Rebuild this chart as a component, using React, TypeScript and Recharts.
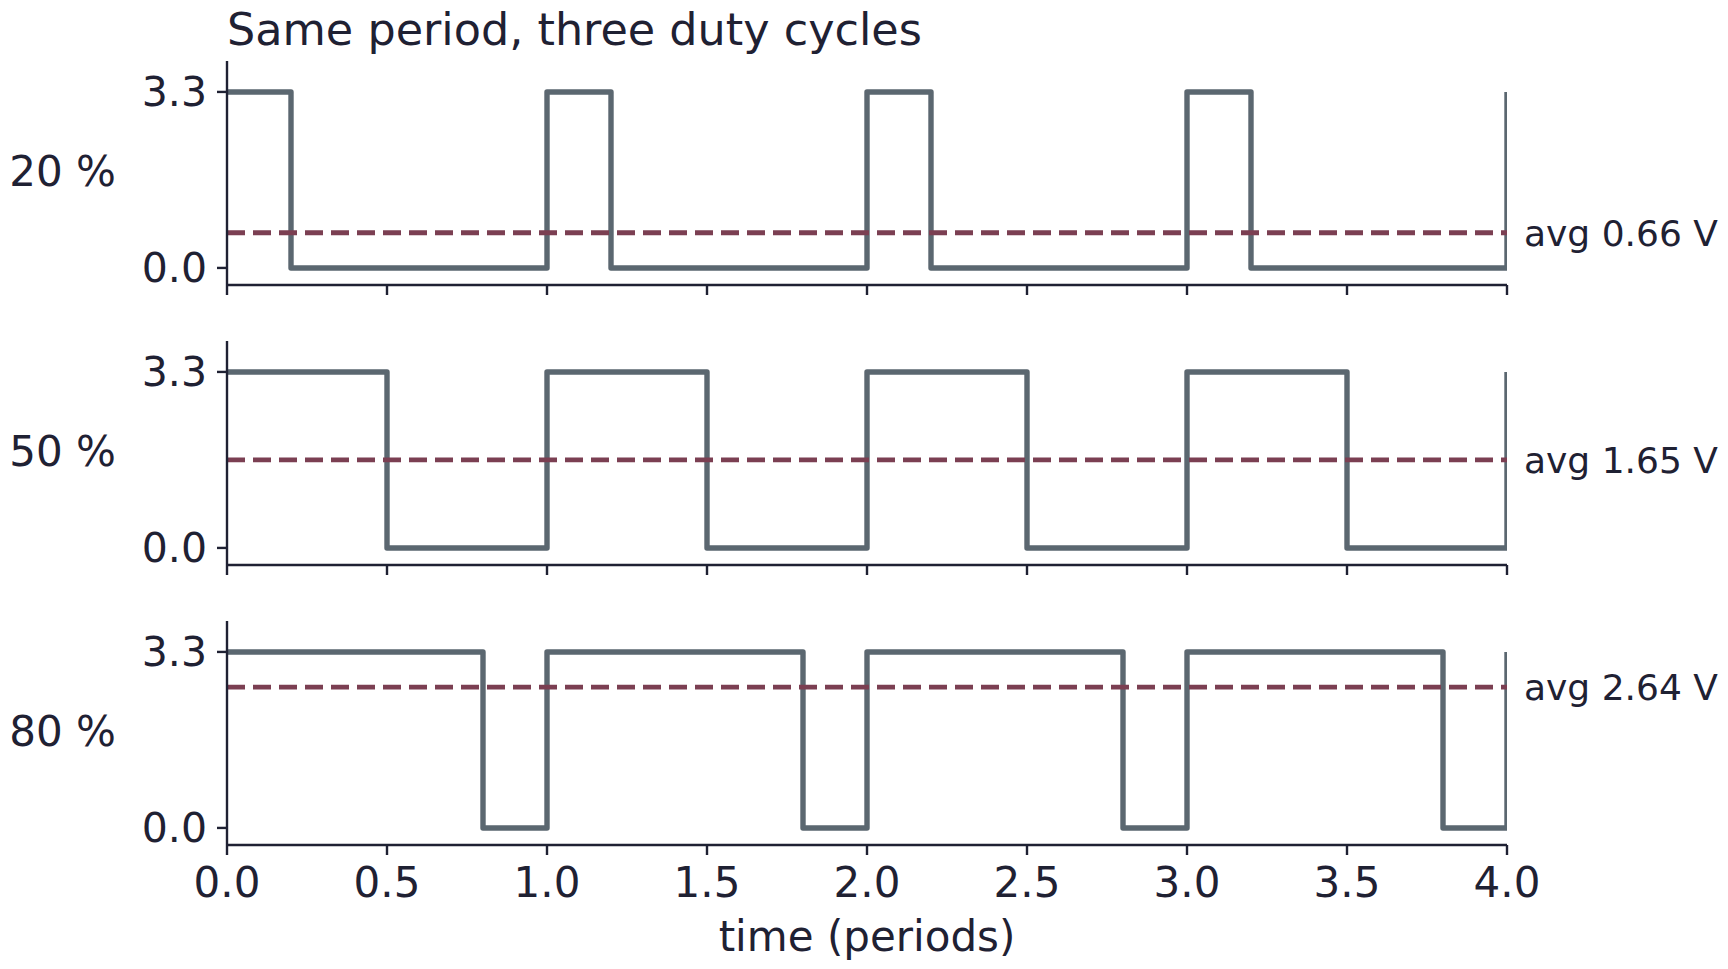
import React from 'react';
import { LineChart, Line, XAxis, YAxis, ReferenceLine } from 'recharts';

// ---- data ----
const TIME_20 = [0, 0.2, 1, 1.2, 2, 2.2, 3, 3.2, 4];
const VOLT_20 = [3.3, 0, 3.3, 0, 3.3, 0, 3.3, 0, 3.3];
const TIME_50 = [0, 0.5, 1, 1.5, 2, 2.5, 3, 3.5, 4];
const VOLT_50 = [3.3, 0, 3.3, 0, 3.3, 0, 3.3, 0, 3.3];
const TIME_80 = [0, 0.8, 1, 1.8, 2, 2.8, 3, 3.8, 4];
const VOLT_80 = [3.3, 0, 3.3, 0, 3.3, 0, 3.3, 0, 3.3];

const DUTY_LABELS = ['20 %', '50 %', '80 %'];
const AVERAGES = [0.66, 1.65, 2.64];
const X_TICKS = [0, 0.5, 1, 1.5, 2, 2.5, 3, 3.5, 4];
const Y_TICKS = [0, 3.3];
const TITLE = 'Same period, three duty cycles';
const X_LABEL = 'time (periods)';

const SERIES = [
  { time: TIME_20, volt: VOLT_20 },
  { time: TIME_50, volt: VOLT_50 },
  { time: TIME_80, volt: VOLT_80 },
];

// ---- style ----
const FONT = '"DejaVu Sans", sans-serif';
const INK = '#1f2133';
const SIGNAL = '#5b6770';
const AVG = '#7b3f52';

const W = 1728;
const PLOT_LEFT = 227;
const PLOT_RIGHT = 1507;
const PLOT_TOP = 61;
const PLOT_H = 224;
const PITCH = 280;

function Panel({ idx }: { idx: number }) {
  const s = SERIES[idx];
  const data = s.time.map((t, i) => ({ t, v: s.volt[i] }));
  const last = idx === SERIES.length - 1;
  const xAxisH = last ? 80 : 30;
  const h = PLOT_TOP + PLOT_H + xAxisH;
  return (
    <div style={{ position: 'absolute', left: 0, top: PITCH * idx }}>
      <LineChart
        width={W}
        height={h}
        data={data}
        margin={{ top: PLOT_TOP, right: W - PLOT_RIGHT, bottom: 0, left: 0 }}
      >
        <XAxis
          dataKey="t"
          type="number"
          domain={[0, 4]}
          allowDataOverflow
          ticks={X_TICKS}
          interval={0}
          height={xAxisH}
          tickSize={10}
          tickMargin={12}
          tickFormatter={(v: number) => (last ? v.toFixed(1) : '')}
          axisLine={{ stroke: INK, strokeWidth: 2.4 }}
          tickLine={{ stroke: INK, strokeWidth: 2.4 }}
          tick={{ fill: INK, fontSize: 42, fontFamily: FONT }}
        />
        <YAxis
          type="number"
          domain={[-0.32, 3.88]}
          allowDataOverflow
          ticks={Y_TICKS}
          interval={0}
          width={PLOT_LEFT}
          tickSize={10}
          tickMargin={10}
          tickFormatter={(v: number) => v.toFixed(1)}
          axisLine={{ stroke: INK, strokeWidth: 2.4 }}
          tickLine={{ stroke: INK, strokeWidth: 2.4 }}
          tick={{ fill: INK, fontSize: 41, fontFamily: FONT }}
        />
        <Line
          dataKey="v"
          type="stepAfter"
          stroke={SIGNAL}
          strokeWidth={5.4}
          strokeLinejoin="round"
          dot={false}
          activeDot={false}
          isAnimationActive={false}
        />
        <ReferenceLine
          y={AVERAGES[idx]}
          stroke={AVG}
          strokeWidth={4.8}
          strokeDasharray="18 8"
          label={{
            value: `avg ${AVERAGES[idx].toFixed(2)} V`,
            position: 'right',
            offset: 17,
            fill: INK,
            fontSize: 36,
            fontFamily: FONT,
          }}
        />
      </LineChart>
    </div>
  );
}

export default function App() {
  return (
    <div
      style={{
        position: 'absolute',
        left: 0,
        top: 0,
        width: W,
        height: 969,
        background: '#ffffff',
        overflow: 'hidden',
      }}
    >
      {SERIES.map((_, i) => (
        <Panel key={i} idx={i} />
      ))}
      <svg
        width={W}
        height={969}
        style={{ position: 'absolute', left: 0, top: 0, pointerEvents: 'none' }}
      >
        <text x={227} y={45} fontSize={44.5} fontFamily={FONT} fill={INK}>
          {TITLE}
        </text>
        {DUTY_LABELS.map((lab, i) => (
          <text
            key={lab}
            x={116}
            y={PLOT_TOP + PLOT_H / 2 + PITCH * i + 13}
            fontSize={42}
            fontFamily={FONT}
            fill={INK}
            textAnchor="end"
          >
            {lab}
          </text>
        ))}
        <text
          x={(PLOT_LEFT + PLOT_RIGHT) / 2}
          y={951}
          fontSize={42}
          fontFamily={FONT}
          fill={INK}
          textAnchor="middle"
        >
          {X_LABEL}
        </text>
      </svg>
    </div>
  );
}
